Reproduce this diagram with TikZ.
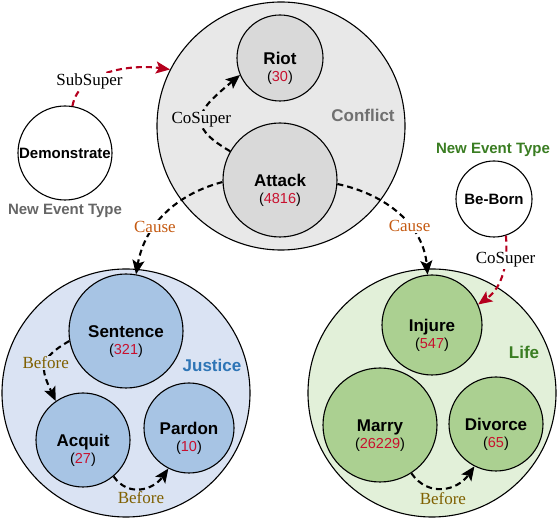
\documentclass[tikz,border=0pt]{standalone}
\usepackage{fontspec}
\setmainfont{Liberation Serif}
\setsansfont{Liberation Sans}
\usetikzlibrary{arrows.meta}
\definecolor{confbg}{HTML}{E8E8E8}
\definecolor{confin}{HTML}{D9D9D9}
\definecolor{jusbg}{HTML}{DAE3F3}
\definecolor{jusin}{HTML}{A7C4E4}
\definecolor{lifebg}{HTML}{E2F0D9}
\definecolor{lifein}{HTML}{ABD091}
\definecolor{numred}{HTML}{C8102E}
\definecolor{causec}{HTML}{C55A11}
\definecolor{beforec}{HTML}{7F6000}
\definecolor{relred}{HTML}{B5001E}
\definecolor{jusblue}{HTML}{2E75B6}
\definecolor{lifegreen}{HTML}{3A7D22}
\definecolor{confgray}{HTML}{707070}
\definecolor{newgray}{HTML}{666666}
\begin{document}
\begin{tikzpicture}[x=1pt,y=1pt,
  grp/.style={circle, draw=black, line width=1.1pt, inner sep=0pt},
  ev/.style={circle, draw=black, line width=1.1pt, inner sep=0pt, align=center,
    font=\sffamily\bfseries\fontsize{17}{17}\selectfont, text height=12.2pt, text depth=0pt},
  newev/.style={circle, draw=black, fill=white, line width=1.1pt, inner sep=0pt,
    font=\sffamily\bfseries\fontsize{15}{15}\selectfont},
  cnt/.style={label={[font=\sffamily\fontsize{14.5}{14.5}\selectfont, text height=10pt, text depth=0pt, yshift=-19pt]center:(\textcolor{numred}{#1})}},
  grplab/.style={font=\sffamily\bfseries\fontsize{17}{17}\selectfont},
  rel/.style={line width=2.1pt, dash pattern=on 6pt off 4pt, -{Stealth[length=14pt,width=12pt,inset=3pt]}},
  lab/.style={font=\fontsize{17}{17}\selectfont, inner sep=1pt, text=black},
]
\useasboundingbox (0,0) rectangle (558,520);

% group circles
\node[grp, fill=confbg, minimum size=248pt] (conf) at (281,394) {};
\node[grp, fill=jusbg, minimum size=248pt] (jus) at (126,127) {};
\node[grp, fill=lifebg, minimum size=248pt] (life) at (432,127) {};

% events
\node[ev, fill=confin, minimum size=86pt, cnt=30] (riot) at (280,462) {Riot};
\node[ev, fill=confin, minimum size=114pt, cnt=4816] (attack) at (280,340) {Attack};
\node[ev, fill=jusin, minimum size=114pt, cnt=321] (sentence) at (126,189) {Sentence};
\node[ev, fill=jusin, minimum size=94pt, cnt=27] (acquit) at (83,80) {Acquit};
\node[ev, fill=jusin, minimum size=90pt, cnt=10] (pardon) at (189,92) {Pardon};
\node[ev, fill=lifein, minimum size=100pt, cnt=547] (injure) at (432,195) {Injure};
\node[ev, fill=lifein, minimum size=114pt, cnt=26229] (marry) at (380,95) {Marry};
\node[ev, fill=lifein, minimum size=94pt, cnt=65] (divorce) at (496,96) {Divorce};

\node[newev, minimum size=94pt] (dem) at (65,367) {Demonstrate};
\node[newev, minimum size=76pt] (beborn) at (494,321) {Be-Born};

% labels
\node[grplab, text=confgray] (conflab) at (363,405) {Conflict};
\node[grplab, text=jusblue] (juslab) at (212,155) {Justice};
\node[grplab, text=lifegreen] (lifelab) at (524,168) {Life};
\node[font=\sffamily\bfseries\fontsize{15}{15}\selectfont, text=newgray] (nt1) at (65,309) {New Event Type};
\node[font=\sffamily\bfseries\fontsize{15}{15}\selectfont, text=lifegreen] (nt2) at (493,370) {New Event Type};

% relations
\draw[rel, relred] (dem.81) to[out=80, in=172, looseness=0.9]
  node[lab, fill=white, pos=0.3] {SubSuper} (conf.153);
\draw[rel] (attack.150) to[out=150, in=220, looseness=1.8]
  node[lab, fill=confbg, pos=0.45] {CoSuper} (riot.203);
\draw[rel] (attack.182) to[out=195, in=80]
  node[lab, fill=white, pos=0.62] {\textcolor{causec}{Cause}} (sentence.80);
\draw[rel] (attack.-4) to[out=-12, in=95]
  node[lab, fill=white, pos=0.62] {\textcolor{causec}{Cause}} (injure.95);
\draw[rel, relred] (beborn.-72) to[out=-85, in=35]
  node[lab, fill=white, pos=0.3] {CoSuper} (injure.24);
\draw[rel] (sentence.190) to[out=210, in=115, looseness=1.5]
  node[lab, fill=jusbg, pos=0.45] {\textcolor{beforec}{Before}} (acquit.125);
\draw[rel] (acquit.-50) to[out=-55, in=235, looseness=1.2]
  node[lab, below=1pt, pos=0.5] {\textcolor{beforec}{Before}} (pardon.243);
\draw[rel] (marry.-57) to[out=-55, in=235, looseness=1.2]
  node[lab, below=2pt, pos=0.5] {\textcolor{beforec}{Before}} (divorce.243);
\end{tikzpicture}
\end{document}
